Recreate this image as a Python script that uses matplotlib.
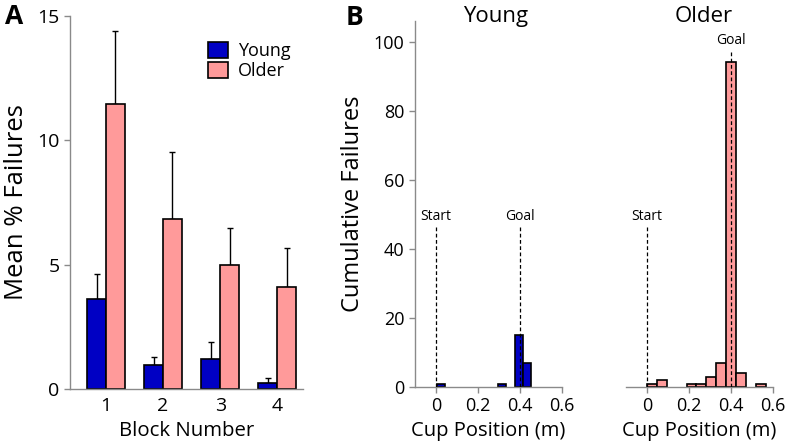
import matplotlib.pyplot as plt
import numpy as np

plt.rcParams['font.family'] = ['Open Sans', 'DejaVu Sans']

# panel A: mean % failures per block
blocks = [1, 2, 3, 4]
young_mean = [3.62, 0.97, 1.20, 0.25]
young_err = [1.00, 0.32, 0.70, 0.20]
older_mean = [11.46, 6.84, 4.99, 4.10]
older_err = [2.94, 2.70, 1.48, 1.57]

# panel B: cumulative failures by cup position (bin centres, m)
young_pos = [0.024, 0.316, 0.395, 0.435]
young_count = [1, 1, 15, 7]
older_pos = [0.0235, 0.0705, 0.2115, 0.2585, 0.3055, 0.3525, 0.3995, 0.4465, 0.5405]
older_count = [1, 2, 1, 1, 3, 7, 94, 4, 1]
start_pos = 0.0
goal_pos = 0.4

blue = '#0000C4'
pink = '#FF9A9A'
gray = '#8a8a8a'


def style_axis(ax):
    for s in ['top', 'right']:
        ax.spines[s].set_visible(False)
    for s in ['left', 'bottom']:
        ax.spines[s].set_color(gray)
        ax.spines[s].set_linewidth(1.0)
    ax.tick_params(direction='out', length=4, color=gray, width=1.0)


fig = plt.figure(figsize=(7.87, 4.42), dpi=100)

# ---- A
axA = fig.add_axes([0.0889, 0.12, 0.296, 0.844])
style_axis(axA)
x = np.array(blocks)
w = 0.33
axA.bar(x - w / 2, young_mean, w, color=blue, edgecolor='black', linewidth=1.2,
        label='Young', zorder=2)
axA.bar(x + w / 2, older_mean, w, color=pink, edgecolor='black', linewidth=1.2,
        label='Older', zorder=2)
axA.errorbar(x - w / 2, young_mean, yerr=[np.zeros(4), young_err], fmt='none',
             ecolor='black', elinewidth=1.0, capsize=2, capthick=1.0, zorder=1)
axA.errorbar(x + w / 2, older_mean, yerr=[np.zeros(4), older_err], fmt='none',
             ecolor='black', elinewidth=1.0, capsize=2, capthick=1.0, zorder=1)
axA.set_xlim(0.37, 4.45)
axA.set_ylim(0, 15)
axA.set_xticks(blocks)
axA.set_yticks([0, 5, 10, 15])
axA.tick_params(axis='both', labelsize=14)
axA.tick_params(axis='x', length=0, pad=6)
axA.set_xlabel('Block Number', fontsize=14.7, labelpad=4)
axA.set_ylabel('Mean % Failures', fontsize=18.5, labelpad=6)
axA.legend(loc='upper left', bbox_to_anchor=(0.56, 0.95), frameon=False,
           fontsize=13, handlelength=1.1, handleheight=1.0, handletextpad=0.6,
           labelspacing=0.12, borderaxespad=0)

# ---- B
axY = fig.add_axes([0.527, 0.1244, 0.187, 0.828])
axO = fig.add_axes([0.7954, 0.1244, 0.187, 0.828], sharey=axY)

panels = [(axY, young_pos, young_count, blue, 0.04),
          (axO, older_pos, older_count, pink, 0.047)]
for ax, pos, cnt, col, bw in panels:
    style_axis(ax)
    ax.bar(pos, cnt, bw, color=col, edgecolor='black', linewidth=1.2, zorder=2)
    ax.set_xlim(-0.1, 0.6)
    ax.set_xticks([0, 0.2, 0.4, 0.6])
    ax.set_xticklabels(['0', '0.2', '0.4', '0.6'])
    ax.tick_params(axis='both', labelsize=13)
    ax.set_xlabel('Cup Position (m)', fontsize=14.5, labelpad=4)

axY.set_ylim(0, 106)
axY.set_yticks([0, 20, 40, 60, 80, 100])
axY.set_ylabel('Cumulative Failures', fontsize=17, labelpad=6)

axO.spines['left'].set_visible(False)
axO.tick_params(axis='y', left=False, labelleft=False)

# start / goal markers
dash = dict(color='black', linestyle=(0, (3, 2)), linewidth=0.9, zorder=3)
axY.plot([start_pos, start_pos], [0, 46.5], **dash)
axY.plot([goal_pos, goal_pos], [0, 46.5], **dash)
axY.text(start_pos, 49.5, 'Start', ha='center', va='center', fontsize=10)
axY.text(goal_pos, 49.5, 'Goal', ha='center', va='center', fontsize=10)
axO.plot([start_pos, start_pos], [0, 46.5], **dash)
axO.plot([goal_pos, goal_pos], [0, 97.5], **dash)
axO.text(start_pos, 49.5, 'Start', ha='center', va='center', fontsize=10)
axO.text(goal_pos, 100.5, 'Goal', ha='center', va='center', fontsize=10)

fig.text(0.630, 0.962, 'Young', fontsize=16, ha='center', va='center')
fig.text(0.8945, 0.962, 'Older', fontsize=16, ha='center', va='center')

fig.text(0.018, 0.962, 'A', fontsize=19, fontweight='bold', ha='center', va='center')
fig.text(0.451, 0.96, 'B', fontsize=19, fontweight='bold', ha='center', va='center')

fig.savefig('out.png', dpi=100)
